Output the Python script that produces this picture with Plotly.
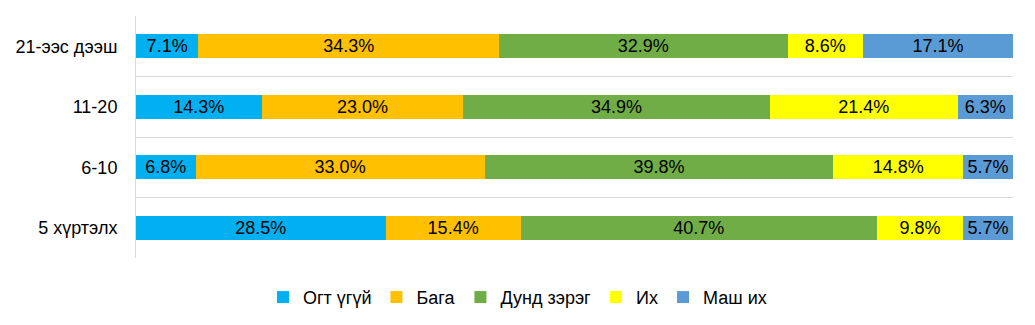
import plotly.graph_objects as go

# Categories listed bottom-to-top (Plotly draws the first category at the bottom)
categories = ["5 хүртэлх", "6-10", "11-20", "21-ээс дээш"]

series_names = ["Огт үгүй", "Бага", "Дунд зэрэг", "Их", "Маш их"]
series_colors = ["#00B0F0", "#FFC000", "#70AD47", "#FFFF00", "#5B9BD5"]

ogt_ugui = [28.5, 6.8, 14.3, 7.1]
baga = [15.4, 33.0, 23.0, 34.3]
dund_zereg = [40.7, 39.8, 34.9, 32.9]
ikh = [9.8, 14.8, 21.4, 8.6]
mash_ikh = [5.7, 5.7, 6.3, 17.1]

series_values = [ogt_ugui, baga, dund_zereg, ikh, mash_ikh]

FONT = "Liberation Sans, Arial, sans-serif"
FS = 18

fig = go.Figure()
for name, color, vals in zip(series_names, series_colors, series_values):
    fig.add_trace(go.Bar(
        y=categories,
        x=vals,
        name=name,
        orientation="h",
        marker=dict(color=color, line=dict(width=0)),
        text=[f"{v:.1f}%" for v in vals],
        textposition="inside",
        insidetextanchor="middle",
        textangle=0,
        constraintext="none",
        textfont=dict(family=FONT, size=FS, color="#000000"),
        cliponaxis=False,
    ))

fig.update_layout(
    barmode="stack",
    barnorm="percent",
    bargap=0.6,
    width=1035,
    height=325,
    margin=dict(l=136, r=22, t=16, b=67),
    paper_bgcolor="white",
    plot_bgcolor="white",
    font=dict(family=FONT, size=FS, color="#000000"),
    legend=dict(
        orientation="h",
        xref="container",
        yref="container",
        x=0.5,
        xanchor="center",
        y=0.085,
        yanchor="middle",
        font=dict(family=FONT, size=FS, color="#000000"),
        traceorder="normal",
        itemwidth=30,
    ),
    xaxis=dict(
        # tiny headroom so rounding in the normalised stack never crosses the edge
        range=[0, 100.01],
        showgrid=False,
        zeroline=False,
        showticklabels=False,
        showline=False,
        fixedrange=True,
    ),
    yaxis=dict(
        type="category",
        tickson="boundaries",
        showgrid=True,
        gridcolor="#D9D9D9",
        gridwidth=1,
        showline=True,
        linecolor="#D9D9D9",
        linewidth=1,
        ticks="",
        ticklabelstandoff=14,
        tickfont=dict(family=FONT, size=FS, color="#000000"),
    ),
)

fig.write_html("out.html")
